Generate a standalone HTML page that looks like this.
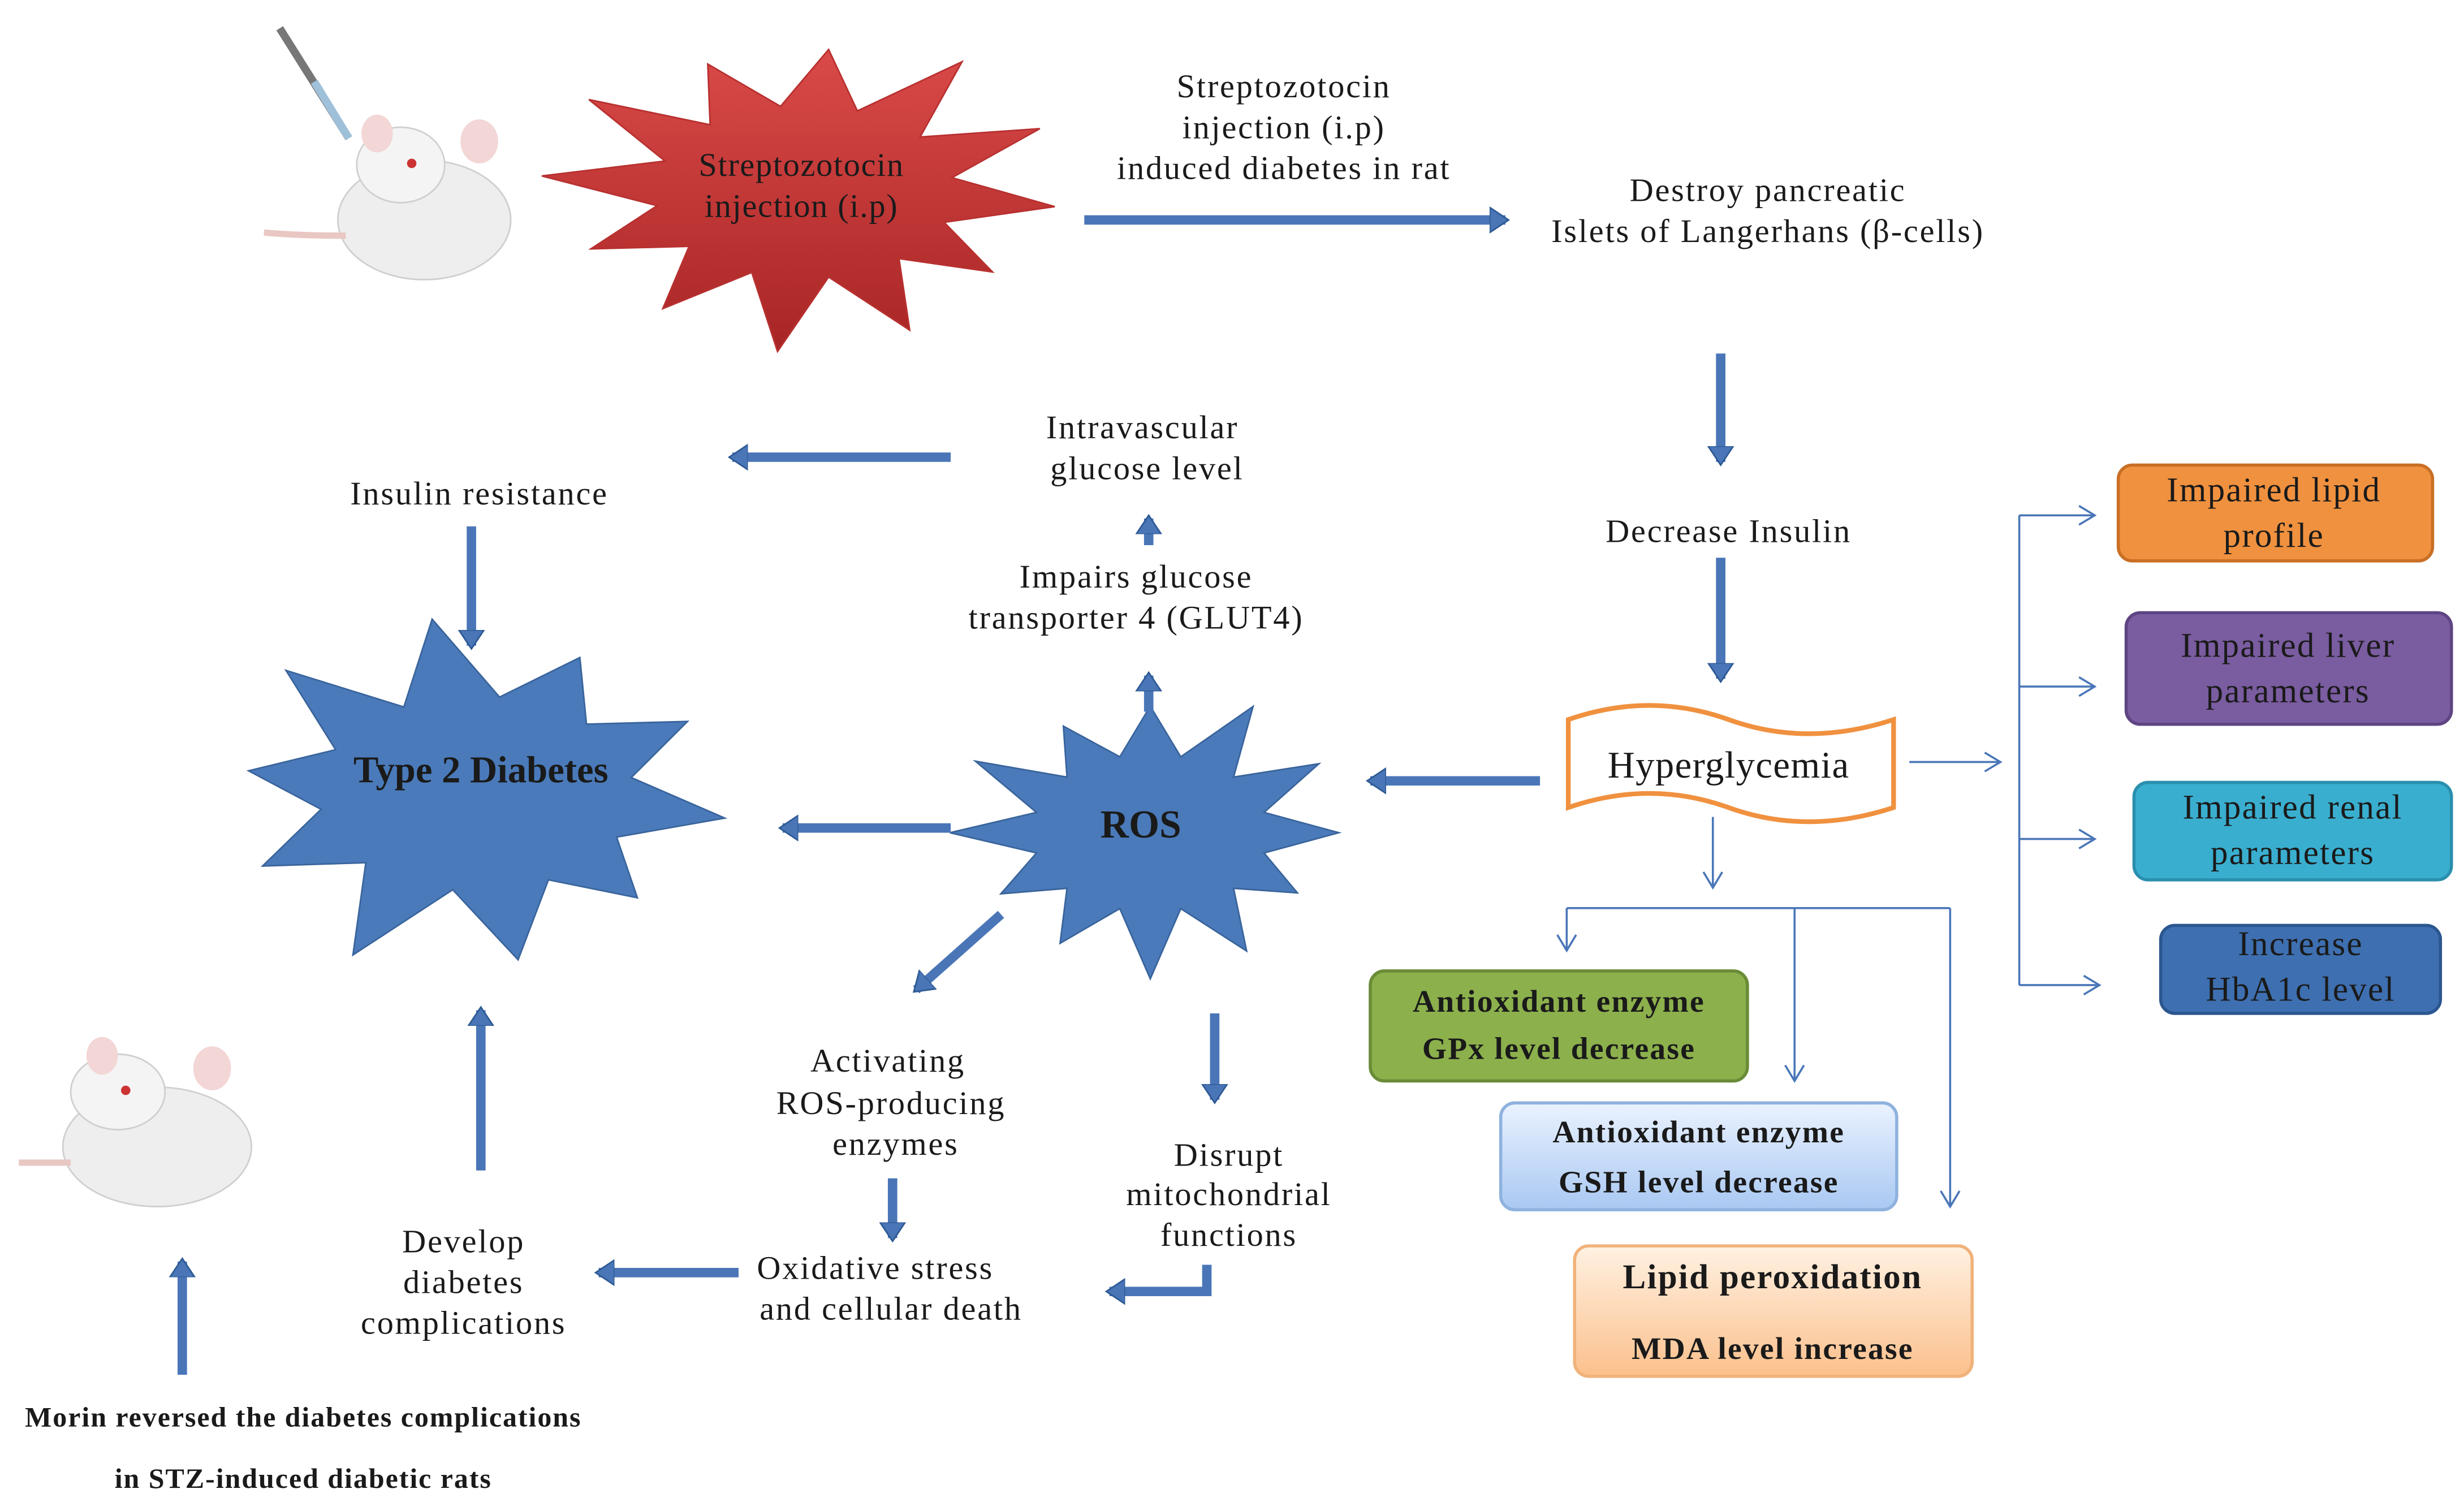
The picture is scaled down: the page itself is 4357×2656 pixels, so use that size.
<!DOCTYPE html>
<html><head><meta charset="utf-8">
<style>
html,body{margin:0;padding:0;background:#fff;}
svg{display:block;}
text{font-family:"Liberation Serif",serif;fill:#1a1a1a;}
</style></head>
<body>
<svg id="s" width="4357" height="2656" viewBox="0 0 1568 956" preserveAspectRatio="none" xmlns="http://www.w3.org/2000/svg">
<defs>
<marker id="bh" markerUnits="userSpaceOnUse" markerWidth="20" markerHeight="20" refX="10" refY="10" orient="auto">
<path d="M0,2 L12,10 L0,18 Z" fill="#4a76b8" stroke="#2e5a94" stroke-width="1"/>
</marker>
<marker id="th" markerUnits="userSpaceOnUse" markerWidth="14" markerHeight="14" refX="12" refY="7" orient="auto">
<path d="M2,1 L12,7 L2,13" fill="none" stroke="#4a76b8" stroke-width="1.3"/>
</marker>
<linearGradient id="gb" x1="0" y1="0" x2="0" y2="1"><stop offset="0" stop-color="#eaf2ff"/><stop offset="1" stop-color="#a9c8f2"/></linearGradient>
<linearGradient id="gp" x1="0" y1="0" x2="0" y2="1"><stop offset="0" stop-color="#fff1e2"/><stop offset="1" stop-color="#fbc08c"/></linearGradient>
<linearGradient id="gr" x1="0" y1="0" x2="0" y2="1"><stop offset="0" stop-color="#d94a48"/><stop offset="1" stop-color="#a82525"/></linearGradient>
</defs>

<g id="rat1">
<ellipse cx="270" cy="140" rx="55" ry="38" fill="#eeeeee" stroke="#cfcfcf"/>
<ellipse cx="255" cy="105" rx="28" ry="24" fill="#f4f4f4" stroke="#cfcfcf"/>
<ellipse cx="240" cy="85" rx="10" ry="12" fill="#f3d6d6"/>
<ellipse cx="305" cy="90" rx="12" ry="14" fill="#f3d6d6"/>
<path d="M220,150 Q190,150 168,148" stroke="#e9c7c2" stroke-width="4" fill="none"/>
<circle cx="262" cy="104" r="3" fill="#c33"/>
</g>
<line x1="178" y1="18" x2="222" y2="88" stroke="#777" stroke-width="5"/>
<line x1="200" y1="52" x2="222" y2="88" stroke="#9fc0d9" stroke-width="5"/>
<g transform="translate(-160,590)">
<ellipse cx="260" cy="140" rx="60" ry="38" fill="#eeeeee" stroke="#cfcfcf"/>
<ellipse cx="235" cy="105" rx="30" ry="24" fill="#f4f4f4" stroke="#cfcfcf"/>
<ellipse cx="225" cy="82" rx="10" ry="12" fill="#f3d6d6"/>
<ellipse cx="295" cy="90" rx="12" ry="14" fill="#f3d6d6"/>
<path d="M205,150 Q180,150 172,150" stroke="#e9c7c2" stroke-width="4" fill="none"/>
<circle cx="240" cy="104" r="3" fill="#c33"/>
</g>

<polygon id="redstar" fill="url(#gr)" stroke="#b83030"/>
<text x="510" y="112" font-size="21" letter-spacing="0.6" text-anchor="middle">Streptozotocin</text>
<text x="510" y="138" font-size="21" letter-spacing="0.6" text-anchor="middle">injection (i.p)</text>

<polygon id="t2star" fill="#4a7ab9" stroke="#3a649c"/>
<text x="306" y="498" font-size="24" font-weight="bold" text-anchor="middle">Type 2 Diabetes</text>
<polygon id="rosstar" fill="#4a7ab9" stroke="#3a649c"/>
<text x="726" y="533" font-size="25" font-weight="bold" text-anchor="middle">ROS</text>

<g font-size="21" letter-spacing="1" text-anchor="middle">
<text x="817" y="62">Streptozotocin</text>
<text x="817" y="88">injection (i.p)</text>
<text x="817" y="114">induced diabetes in rat</text>
<text x="1125" y="128">Destroy pancreatic</text>
<text x="1125" y="154">Islets of Langerhans (β-cells)</text>
<text x="1100" y="345">Decrease Insulin</text>
<text x="727" y="279">Intravascular</text>
<text x="730" y="305">glucose level</text>
<text x="723" y="374">Impairs glucose</text>
<text x="723" y="400">transporter 4 (GLUT4)</text>
<text x="305" y="321">Insulin resistance</text>
<text x="565" y="682">Activating</text>
<text x="567" y="709">ROS-producing</text>
<text x="570" y="735">enzymes</text>
<text x="557" y="814">Oxidative stress</text>
<text x="567" y="840">and cellular death</text>
<text x="782" y="742">Disrupt</text>
<text x="782" y="767">mitochondrial</text>
<text x="782" y="793">functions</text>
<text x="295" y="797">Develop</text>
<text x="295" y="823">diabetes</text>
<text x="295" y="849">complications</text>
</g>
<g font-size="18" letter-spacing="0.7" font-weight="bold" text-anchor="middle">
<text x="193" y="908">Morin reversed the diabetes complications</text>
<text x="193" y="947">in STZ-induced diabetic rats</text>
</g>

<g stroke="#4a76b8" stroke-width="6" marker-end="url(#bh)" fill="none">
<line x1="690" y1="140" x2="958" y2="140"/>
<line x1="1095" y1="225" x2="1095" y2="294"/>
<line x1="1095" y1="355" x2="1095" y2="432"/>
<line x1="980" y1="497" x2="872" y2="497"/>
<line x1="731" y1="453" x2="731" y2="430"/>
<line x1="731" y1="347" x2="731" y2="330"/>
<line x1="605" y1="291" x2="466" y2="291"/>
<line x1="300" y1="335" x2="300" y2="411"/>
<line x1="605" y1="527" x2="498" y2="527"/>
<line x1="637" y1="582" x2="583" y2="630"/>
<line x1="568" y1="750" x2="568" y2="788"/>
<line x1="773" y1="645" x2="773" y2="700"/>
<polyline points="768,805 768,822 706,822"/>
<line x1="470" y1="810" x2="381" y2="810"/>
<line x1="306" y1="745" x2="306" y2="643"/>
<line x1="116" y1="875" x2="116" y2="803"/>
</g>

<path d="M998,458 Q1050,440 1100,458 Q1150,476 1205,458 L1205,514 Q1150,532 1100,514 Q1050,496 998,514 Z" fill="#fff" stroke="#f0913f" stroke-width="3"/>
<text x="1100" y="495" font-size="24" letter-spacing="0.5" text-anchor="middle">Hyperglycemia</text>

<g stroke="#4a76b8" stroke-width="1.3" fill="none">
<line x1="1215" y1="485" x2="1273" y2="485" marker-end="url(#th)"/>
<line x1="1285" y1="328" x2="1285" y2="627"/>
<line x1="1285" y1="328" x2="1333" y2="328" marker-end="url(#th)"/>
<line x1="1285" y1="437" x2="1333" y2="437" marker-end="url(#th)"/>
<line x1="1285" y1="534" x2="1333" y2="534" marker-end="url(#th)"/>
<line x1="1285" y1="627" x2="1336" y2="627" marker-end="url(#th)"/>
<line x1="1090" y1="520" x2="1090" y2="565" marker-end="url(#th)"/>
<line x1="997" y1="578" x2="1241" y2="578"/>
<line x1="997" y1="578" x2="997" y2="605" marker-end="url(#th)"/>
<line x1="1142" y1="578" x2="1142" y2="688" marker-end="url(#th)"/>
<line x1="1241" y1="578" x2="1241" y2="768" marker-end="url(#th)"/>
</g>

<rect x="1348" y="296" width="200" height="61" rx="9" fill="#f0913f" stroke="#c86f25" stroke-width="2"/>
<rect x="1353" y="390" width="207" height="71" rx="9" fill="#7a5ca0" stroke="#5e4582" stroke-width="2"/>
<rect x="1358" y="498" width="202" height="62" rx="9" fill="#3aaecf" stroke="#2a8fae" stroke-width="2"/>
<rect x="1375" y="589" width="178" height="56" rx="9" fill="#3e6fb0" stroke="#2b5690" stroke-width="2"/>
<g font-size="22" letter-spacing="0.8" text-anchor="middle">
<text x="1447" y="319">Impaired lipid</text><text x="1447" y="348">profile</text>
<text x="1456" y="418">Impaired liver</text><text x="1456" y="447">parameters</text>
<text x="1459" y="521">Impaired renal</text><text x="1459" y="550">parameters</text>
<text x="1464" y="608">Increase</text><text x="1464" y="637">HbA1c level</text>
</g>

<rect x="872" y="618" width="240" height="70" rx="9" fill="#8cb04c" stroke="#6a8c38" stroke-width="2"/>
<rect x="955" y="702" width="252" height="68" rx="9" fill="url(#gb)" stroke="#8fb2de" stroke-width="2"/>
<rect x="1002" y="793" width="253" height="83" rx="9" fill="url(#gp)" stroke="#f0b27a" stroke-width="2"/>
<g font-size="20" letter-spacing="0.8" font-weight="bold" text-anchor="middle">
<text x="992" y="644">Antioxidant enzyme</text><text x="992" y="674">GPx  level decrease</text>
<text x="1081" y="727">Antioxidant enzyme</text><text x="1081" y="759">GSH level decrease</text>
<text x="1128" y="820" font-size="22">Lipid peroxidation</text><text x="1128" y="865">MDA level increase</text>
</g>

<script>
function star(id,cx,cy,rx,ry,irx,iry,n,rot,jit){
 var p=[];for(var i=0;i<2*n;i++){var a=Math.PI*i/n+rot;var o=i%2==0;var j=o?(1+jit*Math.sin(i*2.3)):1;
 p.push((cx+(o?rx:irx)*j*Math.cos(a)).toFixed(1)+','+(cy+(o?ry:iry)*j*Math.sin(a)).toFixed(1));}
 document.getElementById(id).setAttribute('points',p.join(' '));}
star('redstar',512,122,160,95,95,55,12,0.1,0.08);
star('t2star',303,505,160,105,100,62,10,0.15,0.1);
star('rosstar',732,530,120,85,75,50,12,0,0.1);
</script>
</svg>
</body></html>
